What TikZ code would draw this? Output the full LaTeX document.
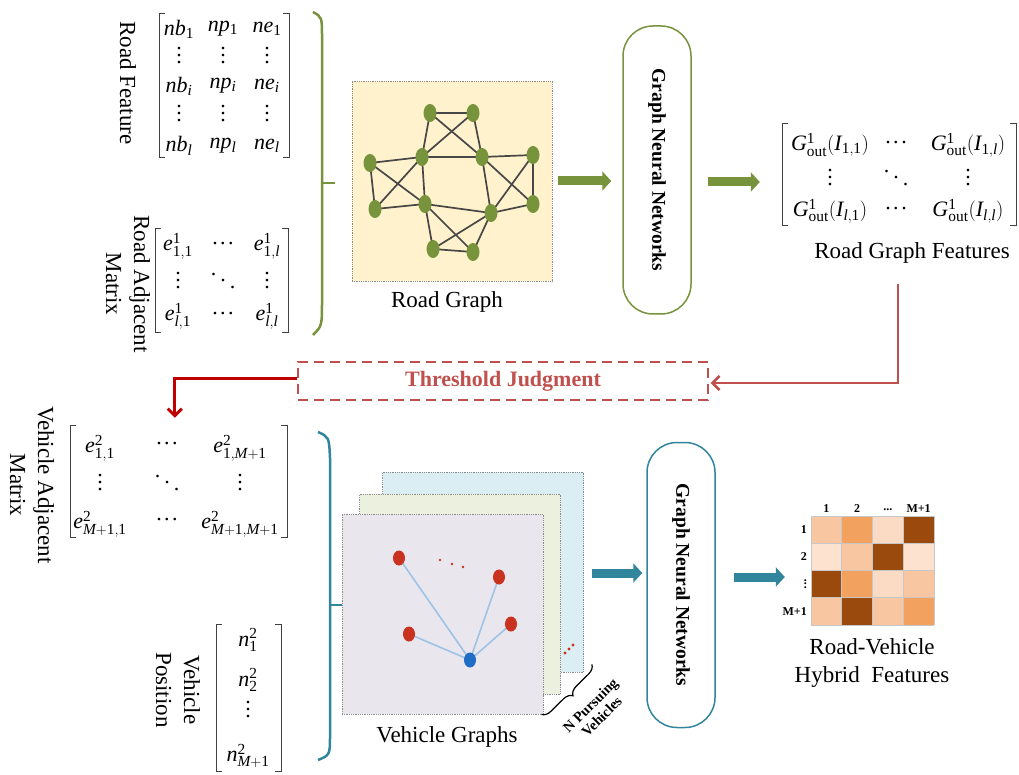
\documentclass[tikz,border=0pt]{standalone}
\usepackage{mathspec}
\setmainfont{Liberation Serif}
\setmathsfont(Digits,Latin){Liberation Serif}
\setmathrm{Liberation Serif}
\usetikzlibrary{arrows.meta,decorations.pathreplacing,calc,shapes.geometric}
\pgfdeclarelayer{back}
\pgfdeclarelayer{mid}
\pgfsetlayers{back,mid,main}
\definecolor{ngreen}{HTML}{77933C}
\definecolor{tteal}{HTML}{31859C}
\definecolor{rred}{HTML}{C0504D}
\definecolor{dred}{HTML}{C00000}
\definecolor{yfill}{HTML}{FFF2CC}
\definecolor{vred}{HTML}{C8321F}
\definecolor{vblue}{HTML}{1F6DC4}
\definecolor{vedge}{HTML}{9DC3E6}
\definecolor{pblue}{HTML}{DAEEF3}
\definecolor{pgreen}{HTML}{EBF1DE}
\definecolor{plav}{HTML}{EAE6EE}
\definecolor{hA}{HTML}{F8C6A0}
\definecolor{hB}{HTML}{F3A15F}
\definecolor{hC}{HTML}{FBDBC4}
\definecolor{hD}{HTML}{9A4A0C}
\definecolor{hE}{HTML}{FCE2CF}
\newcommand\brkpair[4]{%
  \draw[brk] (#1+6,#2) -- (#1,#2) -- (#1,#4) -- (#1+6,#4);
  \draw[brk] (#3-6,#2) -- (#3,#2) -- (#3,#4) -- (#3-6,#4);}
\newcommand\myvd{\vbox{\baselineskip=7pt\lineskiplimit=0pt\hbox{.}\hbox{.}\hbox{.}}}
\newcommand\mydd{\hbox{\raisebox{13pt}{.}\hspace{4pt}\raisebox{6.5pt}{.}\hspace{4pt}.}}
\newcommand\mycd{\hbox{.\hspace{2.5pt}.\hspace{2.5pt}.}}
\begin{document}
\begin{tikzpicture}[x=1pt,y=-1pt,
  lbl/.style={font=\fontsize{23}{28}\selectfont, inner sep=0pt, align=center},
  ent/.style={font=\fontsize{22}{26}\selectfont, inner sep=0pt},
  brk/.style={draw=black!75, line width=0.9pt},
  gnode/.style={ellipse, fill=ngreen, minimum width=13pt, minimum height=18pt, inner sep=0pt},
  gedge/.style={draw=black!72, line width=1.7pt},
  vnode/.style={ellipse, minimum width=12pt, minimum height=15pt, inner sep=0pt},
  vedgest/.style={draw=vedge, line width=1.6pt},
  pane/.style={draw=black!45, densely dotted, line width=0.8pt, minimum width=201pt, minimum height=200pt, inner sep=0pt},
  gnn/.style={rounded corners=30pt, minimum width=68pt, line width=1.5pt, fill=white},
  gnntext/.style={rotate=-90, font=\fontsize{19.5}{22}\selectfont\bfseries, inner sep=0pt},
  garr/.style={draw=ngreen, line width=9pt, -{Triangle[length=9pt,width=19pt]}},
  tarr/.style={draw=tteal, line width=9pt, -{Triangle[length=9pt,width=19pt]}},
  hlab/.style={font=\fontsize{12}{14}\selectfont\bfseries, inner sep=0pt},
  cellline/.style={draw=black!22, line width=0.6pt}
]
\useasboundingbox (0,0) rectangle (1019,775);

% ---------- Road feature ----------
\node[lbl, rotate=-90] (rflab) at (128,83) {Road Feature};
\brkpair{159}{13}{289}{157}
\node[ent] (rf11) at (179,29) {$nb_1$};
\node[ent] (rf12) at (223,29) {$np_1$};
\node[ent] (rf13) at (267,29) {$ne_1$};
\node[ent] (rf21) at (179,56) {\myvd};
\node[ent] (rf22) at (223,56) {\myvd};
\node[ent] (rf23) at (267,56) {\myvd};
\node[ent] (rf31) at (179,86) {$nb_i$};
\node[ent] (rf32) at (223,86) {$np_i$};
\node[ent] (rf33) at (267,86) {$ne_i$};
\node[ent] (rf41) at (179,114) {\myvd};
\node[ent] (rf42) at (223,114) {\myvd};
\node[ent] (rf43) at (267,114) {\myvd};
\node[ent] (rf51) at (179,146) {$nb_l$};
\node[ent] (rf52) at (223,146) {$np_l$};
\node[ent] (rf53) at (267,146) {$ne_l$};

% ---------- Road adjacent matrix ----------
\node[lbl, rotate=-90] (ramlab) at (128,284) {Road Adjacent\\Matrix};
\brkpair{155}{228}{288}{332}
\node[ent] (ra11) at (178,246) {$e^1_{1,1}$};
\node[ent] (ra12) at (223,244) {\mycd};
\node[ent] (ra13) at (267,246) {$e^1_{1,l}$};
\node[ent] (ra21) at (178,281) {\myvd};
\node[ent] (ra22) at (223,281) {\mydd};
\node[ent] (ra23) at (267,281) {\myvd};
\node[ent] (ra31) at (178,316) {$e^1_{l,1}$};
\node[ent] (ra32) at (223,314) {\mycd};
\node[ent] (ra33) at (267,316) {$e^1_{l,l}$};

% ---------- green brace ----------
\draw[draw=ngreen, line width=2.5pt] (313,12) .. controls (322,17) .. (322,38) -- (322,300) .. controls (322,326) .. (313,335);
\draw[draw=ngreen, line width=2.5pt] (322,183) -- (335,183);

% ---------- Road graph ----------
\begin{pgfonlayer}{back}
\node[draw=black!45, densely dotted, fill=yfill, line width=0.8pt, minimum width=200pt, minimum height=200pt, inner sep=0pt] (rg) at (452,181) {};
\end{pgfonlayer}
\node[gnode] (A) at (430,113) {};
\node[gnode] (B) at (473,113) {};
\node[gnode] (C) at (422,157) {};
\node[gnode] (D) at (482,157) {};
\node[gnode] (E) at (370,163) {};
\node[gnode] (F) at (533,155) {};
\node[gnode] (G) at (375,209) {};
\node[gnode] (H) at (425,204) {};
\node[gnode] (I) at (491,213) {};
\node[gnode] (J) at (533,204) {};
\node[gnode] (K) at (433,249) {};
\node[gnode] (L) at (473,252) {};
\begin{pgfonlayer}{mid}
\foreach \u/\v in {A/B,A/C,A/D,B/C,B/D,C/D,C/E,C/G,E/G,E/H,C/H,G/H,D/F,D/I,D/J,F/J,F/I,H/I,H/K,H/L,K/L,K/I,L/I,I/J}
  \draw[gedge] (\u.center) -- (\v.center);
\end{pgfonlayer}
\node[lbl] (rglab) at (447,302) {Road Graph};

% ---------- GNN 1 ----------
\node[gnn, draw=ngreen, minimum height=288pt] (gnn1) at (657,170) {};
\node[gnntext] (gnn1t) at (gnn1.center) {Graph Neural Networks};
\draw[garr] ($(rg.east)+(6,0)$) -- ($(gnn1.west|-rg.east)+(-11,0)$);

% ---------- Road graph features ----------
\node[inner sep=0pt, minimum width=234pt, minimum height=102pt] (rgfm) at (899,174) {};
\brkpair{782}{123}{1016}{225}
\node[ent] (g11) at (830,145) {$G^1_{\mathrm{out}}(I_{1,1})$};
\node[ent] (g12) at (896,143) {\mycd};
\node[ent] (g13) at (968,145) {$G^1_{\mathrm{out}}(I_{1,l})$};
\node[ent] (g21) at (830,178) {\myvd};
\node[ent] (g22) at (896,178) {\mydd};
\node[ent] (g23) at (968,178) {\myvd};
\node[ent] (g31) at (830,211) {$G^1_{\mathrm{out}}(I_{l,1})$};
\node[ent] (g32) at (896,209) {\mycd};
\node[ent] (g33) at (968,211) {$G^1_{\mathrm{out}}(I_{l,l})$};
\node[lbl] (rgflab) at (912,253) {Road Graph Features};
\draw[garr] ($(gnn1.east|-rgfm.center)+(16,8)$) -- ($(rgfm.west)+(-22,8)$);

% ---------- Threshold judgment ----------
\node[draw=rred, dash pattern=on 10pt off 6pt, line width=1.4pt, minimum width=410pt, minimum height=38pt, inner sep=0pt] (tj) at (503,381) {};
\node[font=\fontsize{22}{26}\selectfont\bfseries, text=rred, inner sep=0pt] (tjt) at (tj.center) {Threshold Judgment};
\draw[draw=rred, line width=2.6pt, -{Straight Barb[length=7pt,width=14pt]}] ($(rgflab.south)+(-14,20)$) |- ($(tj.east)+(2,2)$);

% ---------- Vehicle adjacent matrix ----------
\node[inner sep=0pt, minimum width=217pt, minimum height=112pt] (vam) at (178.5,481) {};
\draw[draw=dred, line width=3pt, -{Straight Barb[length=7pt,width=14pt]}] ($(tj.west)+(0,-3)$) -| ($(vam.north west)+(105,-7)$);
\node[lbl, rotate=-90] (vamlab) at (32,485) {Vehicle Adjacent\\Matrix};
\brkpair{70}{425}{287}{537}
\node[ent] (v11) at (100,448) {$e^2_{1,1}$};
\node[ent] (v12) at (167,444) {\mycd};
\node[ent] (v13) at (240,448) {$e^2_{1,M+1}$};
\node[ent] (v21) at (100,483) {\myvd};
\node[ent] (v22) at (167,483) {\mydd};
\node[ent] (v23) at (240,483) {\myvd};
\node[ent] (v31) at (100,524) {$e^2_{M+1,1}$};
\node[ent] (v32) at (167,520) {\mycd};
\node[ent] (v33) at (240,524) {$e^2_{M+1,M+1}$};

% ---------- teal brace ----------
\draw[draw=tteal, line width=2.5pt] (318,432) .. controls (329,437) .. (330,458) -- (330,735) .. controls (330,755) .. (318,760);
\draw[draw=tteal, line width=2.5pt] (330,605) -- (342,605);

% ---------- Vehicle position ----------
\node[lbl, rotate=-90] (vplab) at (178,690) {Vehicle\\Position};
\brkpair{216}{624}{281}{771}
\node[ent] (n1) at (248,640) {$n^2_1$};
\node[ent] (n2) at (248,680) {$n^2_2$};
\node[ent] (n3) at (248,710) {\myvd};
\node[ent] (n4) at (248,756) {$n^2_{M+1}$};

% ---------- Vehicle graphs ----------
\begin{pgfonlayer}{back}
\node[pane, fill=pblue] (pb) at (483,572) {};
\fill[vred] (565,653) circle (1.6pt) (569,649) circle (1.6pt) (573,645) circle (1.6pt);
\node[pane, fill=pgreen] (pg) at (460,594) {};
\node[pane, fill=plav] (pf) at (442.5,614) {};
\fill[vred] (440,560) circle (1.4pt) (452,564) circle (1.4pt) (463,567) circle (1.4pt);
\end{pgfonlayer}
\node[vnode, fill=vblue] (vb) at (470,660) {};
\node[vnode, fill=vred] (r1) at (399,558) {};
\node[vnode, fill=vred] (r2) at (499,577) {};
\node[vnode, fill=vred] (r3) at (409,634) {};
\node[vnode, fill=vred] (r4) at (511,624) {};
\begin{pgfonlayer}{mid}
\foreach \r in {r1,r2,r3,r4} \draw[vedgest] (vb.center) -- (\r.center);
\end{pgfonlayer}
\draw[line width=1.2pt, decorate, decoration={brace, amplitude=9pt, mirror}] ($(pf.south east)+(-2,0)$) -- ($(pb.south east)+(8,-8)$);
\node[rotate=45, font=\fontsize{14.5}{16}\selectfont\bfseries, align=center, inner sep=0pt] (npv) at (596,711) {N Pursuing\\Vehicles};
\node[lbl] (vglab) at (447,737) {Vehicle Graphs};

% ---------- GNN 2 ----------
\node[gnn, draw=tteal, minimum height=285pt] (gnn2) at (681,585) {};
\node[gnntext] (gnn2t) at (gnn2.center) {Graph Neural Networks};
\draw[tarr] ($(pb.east|-gnn2.west)+(8,-12)$) -- ($(gnn2.west)+(-4,-12)$);

% ---------- Heatmap ----------
\node[inner sep=0pt, minimum width=123pt, minimum height=109pt] (hm) at (872.5,570.5) {};
\foreach \col [count=\i from 0] in {hA,hB,hC,hD,hE,hA,hD,hE,hD,hB,hC,hA,hA,hD,hA,hB} {
  \pgfmathtruncatemacro\rw{int(\i/4)}
  \pgfmathtruncatemacro\cl{mod(\i,4)}
  \fill[\col] (811+\cl*30.75,516+\rw*27.25) rectangle (811+\cl*30.75+30.75,516+\rw*27.25+27.25);
}
\foreach \k in {0,1,2,3,4} {
  \draw[cellline] (811+\k*30.75,516) -- (811+\k*30.75,625);
  \draw[cellline] (811,516+\k*27.25) -- (934,516+\k*27.25);
}
\node[hlab] (hc1) at (826.4,509) {1};
\node[hlab] (hc2) at (857.1,509) {2};
\node[hlab] (hc3) at (887.9,510) {...};
\node[hlab] (hc4) at (918.6,509) {M+1};
\node[hlab, anchor=east] (hr1) at (807,530) {1};
\node[hlab, anchor=east] (hr2) at (807,557) {2};
\node[hlab, anchor=east] (hr3) at (807,584) {\vbox{\baselineskip=3.5pt\lineskiplimit=0pt\hbox{.}\hbox{.}\hbox{.}}};
\node[hlab, anchor=east] (hr4) at (807,612) {M+1};
\draw[tarr] ($(gnn2.east)+(18,-8)$) -- ($(hm.west|-gnn2.east)+(-26,-8)$);
\node[lbl] (hmlab) at (872,663) {Road-Vehicle\\Hybrid~~Features};
\end{tikzpicture}
\end{document}
